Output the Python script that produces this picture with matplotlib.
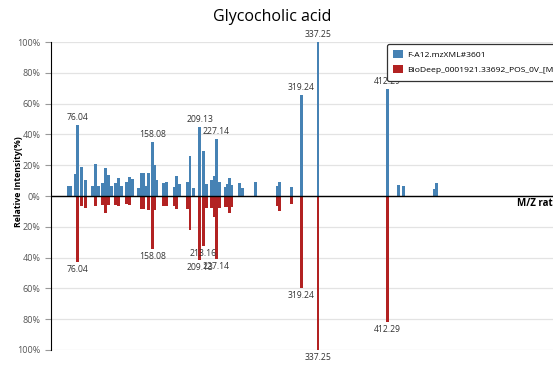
import numpy as np
import matplotlib.pyplot as plt

plt.rcParams['font.family'] = ['Open Sans', 'DejaVu Sans']

# query spectrum (blue, up)
query_mz = [67, 69.5, 74, 76.04, 80.4, 84.7, 92.3, 95.6, 98.8, 104, 107, 110, 113,
            118, 121, 124, 130, 132.4, 135.7, 143, 145.5, 148, 150.5, 154, 158.08,
            159.8, 162.5, 169.5, 172.6, 181.8, 184, 187, 196, 198.5, 202.4, 209.13,
            213.16, 216, 222, 224.5, 227.14, 230, 236.5, 238.7, 241, 243.5, 252, 255,
            270, 293.5, 295.7, 309, 319.24, 337.25, 412.29, 424.7, 429.6, 463.8, 466]
query_int = [6.5, 6.5, 14, 46, 19, 10.4, 6.5, 20.7, 6.5, 8.4, 18.4, 13.6, 6.5,
             8.4, 11.7, 6.5, 9.3, 12.6, 10.8, 5, 15, 15, 6.5, 15, 35,
             20, 10.4, 8.5, 9.3, 5.6, 13, 7.8, 9.3, 26, 5.4, 45,
             29, 7.8, 10.4, 13, 37, 9.3, 5.6, 7.8, 12, 7.2, 8.4, 5,
             9, 6.5, 9.3, 6, 65.6, 100, 69.5, 7.1, 6.5, 4.3, 8.4]

# reference spectrum (red, down)
ref_mz = [76.04, 80.4, 84.7, 95.6, 104, 107, 110, 118, 121, 130, 132.4, 145.5, 148,
          154, 158.08, 160, 169.5, 172.6, 182, 184, 196, 198.5, 209.13, 213.16, 216,
          222, 224.5, 227.14, 230, 236.5, 238.7, 241, 243.5, 293.5, 295.7, 309,
          319.24, 337.25, 412.29]
ref_int = [43, 6.5, 7.6, 6.5, 5.8, 11.3, 6, 5.8, 6.5, 5.5, 5.8, 8.4, 8.4,
           9, 34.5, 9, 6.3, 6.3, 6.3, 8.4, 8.4, 22, 41.5, 32.5, 8,
           8, 13.6, 41, 8, 7, 7, 11, 7, 6.5, 9.7, 5.2,
           60, 100, 82]

query_labels = [76.04, 158.08, 209.13, 227.14, 319.24, 337.25, 412.29]
ref_labels = [76.04, 158.08, 209.13, 213.16, 227.14, 319.24, 337.25, 412.29]

blue = '#4682b4'
red = '#b22222'

fig = plt.figure(figsize=(5.53, 3.65), dpi=100)
ax = fig.add_axes([0.0922, 0.0411, 0.9078, 0.8438])

ax.bar(query_mz, query_int, width=3.2, color=blue, label='F-A12.mzXML#3601', zorder=3)
ax.bar(ref_mz, [-v for v in ref_int], width=3.2, color=red,
       label='BioDeep_0001921.33692_POS_0V_[M+H]+', zorder=3)

for mz in query_labels:
    h = query_int[query_mz.index(mz)]
    ax.annotate('%.2f' % mz, (mz, h), xytext=(0, 2), textcoords='offset points',
                ha='center', va='bottom', fontsize=6.2, color='#333333', annotation_clip=False)
for mz in ref_labels:
    h = ref_int[ref_mz.index(mz)]
    ax.annotate('%.2f' % mz, (mz, -h), xytext=(0, -2), textcoords='offset points',
                ha='center', va='top', fontsize=6.2, color='#333333', annotation_clip=False)

ax.set_xlim(47.8, 592)
ax.set_ylim(-100, 100)
ticks = np.arange(-100, 101, 20)
ax.set_yticks(ticks)
ax.set_yticklabels(['%d%%' % abs(t) for t in ticks])
ax.tick_params(axis='y', labelsize=6.5, labelcolor='#555555', color='#999999', length=4)
ax.set_xticks([])
ax.grid(axis='y', color='#e3e3e3', linewidth=0.9, zorder=0)
ax.axhline(0, color='black', linewidth=1, zorder=4)
for s in ['top', 'right', 'bottom']:
    ax.spines[s].set_visible(False)
ax.spines['left'].set_color('black')

fig.text(272 / 553, 1 - 17 / 365, 'Glycocholic acid', ha='center', va='center', fontsize=11.5)
fig.text(19 / 553, 0.5 + 1 / 365, 'Relative Intensity(%)', rotation=90, ha='center', va='center',
         fontsize=6.3, fontweight='bold')
fig.text(517 / 553, 1 - 204 / 365, 'M/Z ratio', ha='left', va='center', fontsize=7, fontweight='bold')

leg = fig.legend(loc='upper left', bbox_to_anchor=(387 / 553, 1 - 44 / 365), fontsize=6.1,
                 handlelength=1.1, handleheight=1.1, handletextpad=0.5, labelspacing=0.7,
                 borderpad=0.75, borderaxespad=0, fancybox=True, framealpha=1, edgecolor='#333333')
leg.get_frame().set_linewidth(0.9)

fig.savefig('out.png', dpi=100)
